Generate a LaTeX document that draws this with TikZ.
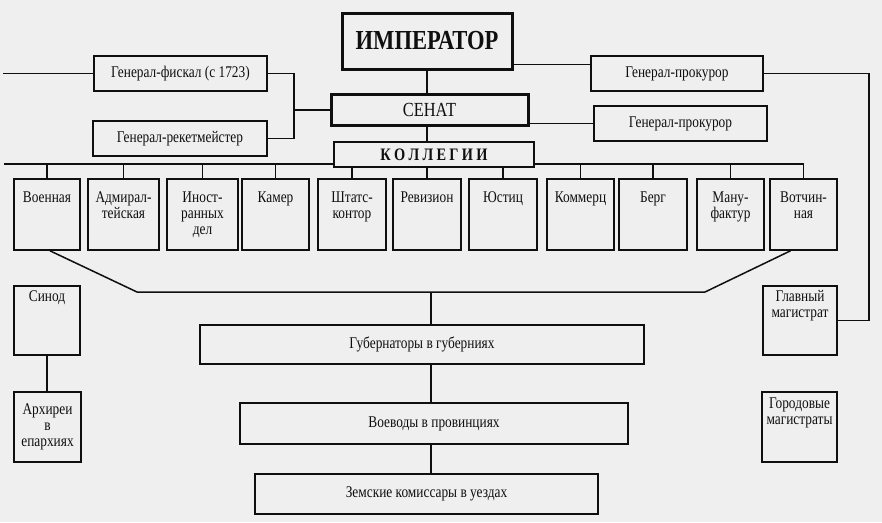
\documentclass[tikz,border=0pt]{standalone}
\usepackage{fontspec}
\setmainfont{Liberation Serif}[FakeStretch=0.82]
\usetikzlibrary{calc}
\definecolor{paper}{RGB}{239,239,239}
\definecolor{ink}{RGB}{15,15,15}
\pgfdeclarelayer{paperlayer}
\pgfdeclarelayer{wires}
\pgfsetlayers{paperlayer,wires,main}
\begin{document}
\begin{tikzpicture}[x=1pt,y=-1pt,
  corners/.style n args={4}{at={({(#1+#3)/2},{(#2+#4)/2})},
     minimum width={(#3-#1)*1pt}, minimum height={(#4-#2)*1pt}},
  box/.style={draw=ink, fill=paper, line width=1.6pt, inner sep=0pt,
     rectangle, text=ink},
  thickbox/.style={box, line width=3pt},
  lab/.style={font=\fontsize{16.3}{16}\selectfont, align=center,
     inner sep=0pt, text=ink},
  wire/.style={draw=ink, line width=1.5pt}]

\begin{pgfonlayer}{paperlayer}
\fill[paper] (0,0) rectangle (882,522);
\end{pgfonlayer}
\useasboundingbox (0,0) rectangle (882,522);

% top
\node[thickbox, corners={342}{13}{512}{69},
      font=\bfseries\fontsize{27.5}{28}\selectfont] (imp) {ИМПЕРАТОР};
\node[thickbox, corners={331}{94}{528}{125},
      font=\fontsize{20}{20}\selectfont] (sen) {СЕНАТ};
\node[box, line width=2pt, corners={334}{142}{534}{167},
      font=\bfseries\fontsize{17.5}{18}\selectfont] (kol)
      {К\hspace{3.3pt}О\hspace{3.3pt}Л\hspace{3.3pt}Л\hspace{3.3pt}Е\hspace{3.3pt}Г\hspace{3.3pt}И\hspace{3.3pt}И};

\node[box, lab, corners={94}{56}{267}{91}] (fis) {Генерал-фискал (с 1723)};
\node[box, lab, corners={93}{121}{267}{156}] (rek) {Генерал-рекетмейстер};
\node[box, lab, corners={591}{56}{763}{91}] (pr1) {Генерал-прокурор};
\node[box, lab, corners={594}{106}{767}{141}] (pr2) {Генерал-прокурор};

% collegia
\node[box, corners={14}{179}{80}{250},
  label={[lab, anchor=north, yshift=-13pt]north:Военная}] (voe) {};
\node[box, corners={88}{179}{159}{250},
  label={[lab, anchor=north, yshift=-13pt]north:Адмирал-\\тейская}] (adm) {};
\node[box, corners={167}{179}{238}{250},
  label={[lab, anchor=north, yshift=-13pt]north:Иност-\\ранных\\дел}] (ino) {};
\node[box, corners={242}{179}{309}{250},
  label={[lab, anchor=north, yshift=-13pt]north:Камер}] (kam) {};
\node[box, corners={318}{179}{386}{250},
  label={[lab, anchor=north, yshift=-13pt]north:Штатс-\\контор}] (sht) {};
\node[box, corners={393}{179}{461}{250},
  label={[lab, anchor=north, yshift=-13pt]north:Ревизион}] (rev) {};
\node[box, corners={469}{179}{537}{250},
  label={[lab, anchor=north, yshift=-13pt]north:Юстиц}] (yus) {};
\node[box, corners={547}{179}{614}{250},
  label={[lab, anchor=north, yshift=-13pt]north:Коммерц}] (kom) {};
\node[box, corners={619}{179}{687}{250},
  label={[lab, anchor=north, yshift=-13pt]north:Берг}] (ber) {};
\node[box, corners={697}{179}{764}{250},
  label={[lab, anchor=north, yshift=-13pt]north:Ману-\\фактур}] (man) {};
\node[box, corners={770}{179}{837}{250},
  label={[lab, anchor=north, yshift=-13pt]north:Вотчин-\\ная}] (vot) {};

% lower
\node[box, corners={14}{286}{80}{355},
  label={[lab, anchor=north, yshift=-5pt]north:Синод}] (sin) {};
\node[box, lab, corners={14}{392}{81}{462}] (arh) {Архиреи\\в\\епархиях};
\node[box, corners={763}{286}{837}{355},
  label={[lab, anchor=north, yshift=-5pt]north:Главный\\магистрат}] (glm) {};
\node[box, corners={762}{392}{837}{462},
  label={[lab, anchor=north, yshift=-6pt]north:Городовые\\магистраты}] (gor) {};

\node[box, lab, corners={200}{325}{644}{364}] (gub) {Губернаторы в губерниях};
\node[box, lab, corners={240}{403}{628}{444}] (vvd) {Воеводы в провинциях};
\node[box, lab, corners={255}{474}{598}{514}] (zem) {Земские комиссары в уездах};

\begin{pgfonlayer}{wires}
\draw[wire] (imp.south) -- (imp.south |- sen.north);
\draw[wire] (imp.south |- sen.south) -- (imp.south |- kol.north);

\coordinate (fisEnd) at (3,73.5);
\draw[wire] (fis.west) -- (fisEnd);
\coordinate (brk) at (294,110);
\draw[wire] (fis.east) -| (brk) |- (rek.east);
\draw[wire] (brk) -- (brk -| sen.west);

\coordinate (impTap) at ($(imp.south east)+(0,-6)$);
\draw[wire] (impTap) -- (impTap -| pr1.west);
\coordinate (rc) at (869,73.5);
\draw[wire] (pr1.east) -- (rc) |- (glm.east);
\draw[wire] (pr2.west) -- (pr2.west -| sen.east);

\coordinate (busL) at (4,164);
\draw[wire] (busL) -- (busL -| vot.north) -- (vot.north);
\foreach \n in {voe,adm,ino,kam,sht,rev,yus,kom,ber,man}
  \draw[wire] (\n.north) -- (\n.north |- busL);

\coordinate (lbL) at (137,292);
\coordinate (lbR) at (705,292);
\draw[wire] ($(voe.south)+(3,0)$) -- (lbL) -- (lbR) -- ($(vot.south)+(-13,0)$);
\coordinate (gx) at (431,292);
\draw[wire] (gx) -- (gx |- gub.north);
\draw[wire] (gx |- gub.south) -- (gx |- vvd.north);
\draw[wire] (gx |- vvd.south) -- (gx |- zem.north);
\draw[wire] (sin.south) -- (sin.south |- arh.north);
\end{pgfonlayer}
\end{tikzpicture}
\end{document}
